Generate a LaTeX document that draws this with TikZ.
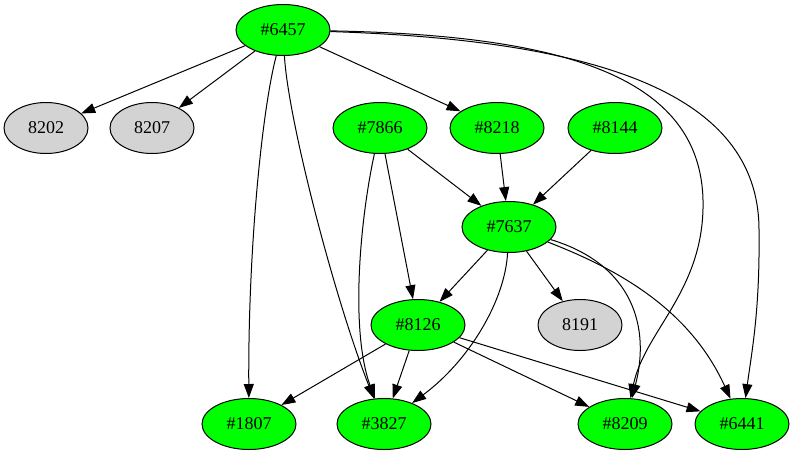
\documentclass[tikz,border=0pt]{standalone}
\usepackage{fontspec}
\setmainfont{Liberation Serif}
\usetikzlibrary{shapes.geometric,arrows.meta}
\definecolor{gvgreen}{HTML}{00FF00}
\definecolor{gvgray}{HTML}{D3D3D3}
\begin{document}
\begin{tikzpicture}[x=1pt,y=-1pt,
  base/.style={ellipse,draw=black,line width=1pt,inner sep=0pt,minimum height=51pt,
    font=\fontsize{18}{20}\selectfont},
  gnode/.style={base,fill=gvgreen,minimum width=94pt},
  lnode/.style={base,fill=gvgray,minimum width=84pt},
  edge/.style={draw=black,line width=1pt,-{Triangle[length=14pt,width=10pt]}}]
\useasboundingbox (0,0) rectangle (795,456);
\node[gnode] (n6457) at (283,30) {\#6457};
\node[lnode] (n8202) at (46,128) {8202};
\node[lnode] (n8207) at (152,128) {8207};
\node[gnode] (n7866) at (380,128) {\#7866};
\node[gnode] (n8218) at (497,128) {\#8218};
\node[gnode] (n8144) at (615,128) {\#8144};
\node[gnode] (n7637) at (509,227) {\#7637};
\node[gnode] (n8126) at (418,325) {\#8126};
\node[lnode] (n8191) at (580,325) {8191};
\node[gnode] (n1807) at (249,424) {\#1807};
\node[gnode] (n3827) at (384,424) {\#3827};
\node[gnode] (n8209) at (625,424) {\#8209};
\node[gnode] (n6441) at (742,424) {\#6441};
% straight edges
\draw[edge] (n6457) -- (n8202);
\draw[edge] (n6457) -- (n8207);
\draw[edge] (n6457) -- (n8218);
\draw[edge] (n7866) -- (n7637);
\draw[edge] (n8218) -- (n7637);
\draw[edge] (n8144) -- (n7637);
\draw[edge] (n7866) -- (n8126);
\draw[edge] (n7637) -- (n8126);
\draw[edge] (n7637) -- (n8191);
\draw[edge] (n8126) -- (n1807);
\draw[edge] (n8126) -- (n3827);
\draw[edge] (n8126) -- (n8209);
\draw[edge] (n8126) -- (n6441);
% curved edges
\draw[edge] (n6457) .. controls (262,110) and (248,250) .. (n1807);
\draw[edge] (n6457) .. controls (288,120) and (335,300) .. (n3827);
\draw[edge] (n7866) .. controls (360,220) and (350,330) .. (n3827);
\draw[edge] (n7637) .. controls (505,300) and (470,360) .. (n3827);
\draw[edge] (n7637) .. controls (635,265) and (650,330) .. (n8209);
\draw[edge] (n7637) .. controls (620,270) and (690,310) .. (n6441);
\coordinate (c1) at (703,200);
\coordinate (c2) at (759,230);
\draw[edge] (n6457) .. controls (560,35) and (700,75) .. (c1) .. controls (705,290) and (645,330) .. (n8209);
\draw[edge] (n6457) .. controls (590,40) and (759,90) .. (c2) .. controls (760,310) and (752,350) .. (n6441);
\end{tikzpicture}
\end{document}
